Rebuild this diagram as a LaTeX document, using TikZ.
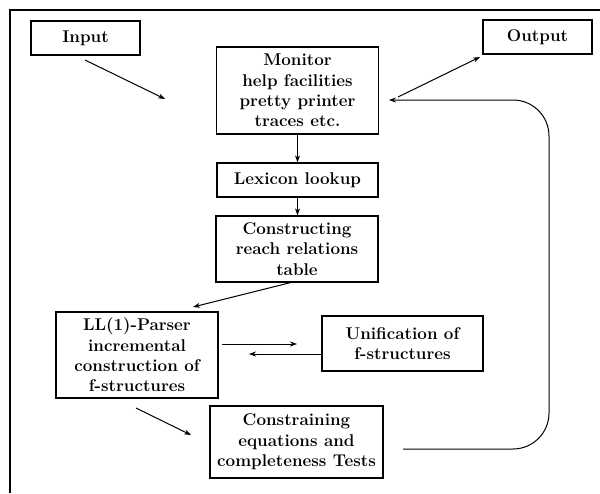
\documentclass[tikz,border=0pt]{standalone}
\usepackage{fontspec}
\usetikzlibrary{arrows.meta,calc}
\begin{document}
\begin{tikzpicture}[x=1pt,y=-1pt,
  box/.style={draw,line width=1.3pt,align=center,inner sep=0pt,
    font=\fontsize{17}{20.4}\selectfont\bfseries},
  conn/.style={line width=1pt,-{Stealth[length=7pt,width=5pt]}},
  frame/.style={line width=1.3pt}]
\useasboundingbox (0,0) rectangle (600,493);
% outer frame
\coordinate (fbl) at (10,493);
\coordinate (ftl) at (10,10);
\coordinate (ftr) at (600,10);
\draw[frame] (fbl) -- (ftl) -- (ftr);
% nodes
\node[box,minimum width=109pt,minimum height=34pt] (in) at (85.5,38) {Input};
\node[box,minimum width=109pt,minimum height=34pt] (out) at (537.5,37) {Output};
\node[box,minimum width=162pt,minimum height=87pt] (mon) at (297.5,90.5)
  {Monitor\\help facilities\\pretty printer\\traces etc.};
\node[box,minimum width=161pt,minimum height=34pt] (lex) at (297.5,180) {Lexicon lookup};
\node[box,minimum width=162pt,minimum height=66pt] (cons) at (297,249)
  {Constructing\\reach relations\\table};
\node[box,minimum width=162pt,minimum height=86pt] (ll) at (137,355)
  {LL(1)-Parser\\incremental\\construction of\\f-structures};
\node[box,minimum width=161pt,minimum height=55pt] (unif) at (402.5,343.5)
  {Unification of\\f-structures};
\node[box,minimum width=173pt,minimum height=72pt] (ctest) at (296.5,442)
  {Constraining\\equations and\\completeness Tests};
% free ends
\coordinate (inA) at (85,60);
\coordinate (inB) at (165,99);
\coordinate (outA) at (398,97);
\coordinate (outB) at (480,57);
\coordinate (consA) at (293,282);
\coordinate (llTop) at (193,307);
\coordinate (uA) at (222,344);
\coordinate (uB) at (297,344);
\coordinate (uC) at (322,354);
\coordinate (uD) at (249,354);
\coordinate (ctA) at (136,408);
\coordinate (ctB) at (191,435);
\coordinate (fbA) at (403,449);
\coordinate (fbC1) at (549,449);
\coordinate (fbC2) at (549,100);
\coordinate (fbB) at (389,100);
% connectors
\draw[conn] (inA) -- (inB);
\draw[conn] (outA) -- (outB);
\draw[conn] (mon.south) -- (mon.south |- lex.north);
\draw[conn] (lex.south) -- (lex.south |- cons.north);
\draw[conn] (consA) -- (llTop);
\draw[conn] (uA) -- (uB);
\draw[conn] (uC) -- (uD);
\draw[conn] (ctA) -- (ctB);
\draw[conn,rounded corners=36pt] (fbA) -- (fbC1) -- (fbC2) -- (fbB);
\end{tikzpicture}
\end{document}
